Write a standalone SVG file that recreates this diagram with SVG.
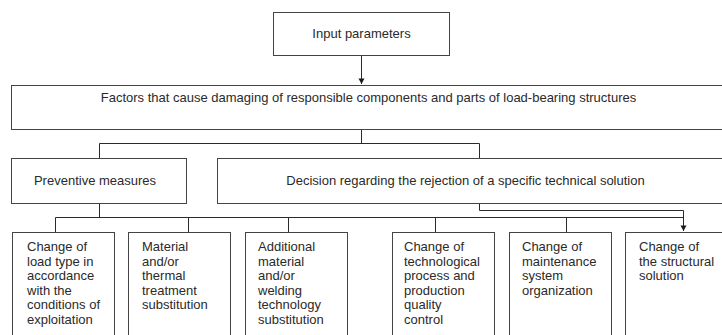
<svg xmlns="http://www.w3.org/2000/svg" width="722" height="335" viewBox="0 0 722 335">
  <style>
    .box { fill: #ffffff; stroke: #444444; stroke-width: 1; }
    .link { fill: none; stroke: #2a2a2a; stroke-width: 1; }
    .lbl { font-family: "Liberation Sans", Arial, sans-serif; font-size: 13px; fill: #2a2a2a; }
    .mid { text-anchor: middle; }
  </style>
  <defs>
    <marker id="down" markerUnits="userSpaceOnUse" markerWidth="7" markerHeight="7" refX="3.5" refY="6.5" orient="0" viewBox="0 0 7 7">
      <path d="M0.5,1 L6.5,1 L3.5,6.5 Z" fill="#1a1a1a"/>
    </marker>
  </defs>

  <rect width="722" height="335" fill="#ffffff"/>

  <!-- connectors -->
  <g id="connectors">
    <line class="link" x1="361.5" y1="55.5" x2="361.5" y2="84" marker-end="url(#down)"/>
    <line class="link" x1="361.5" y1="129.5" x2="361.5" y2="143.5"/>
    <polyline class="link" points="99.5,158.5 99.5,143.5 479.5,143.5 479.5,158.5"/>
    <line class="link" x1="99.5" y1="203.5" x2="99.5" y2="217.5"/>
    <line class="link" x1="55.5" y1="217.5" x2="683.5" y2="217.5"/>
    <line class="link" x1="55.5" y1="217.5" x2="55.5" y2="232.5"/>
    <line class="link" x1="188.5" y1="217.5" x2="188.5" y2="232.5"/>
    <line class="link" x1="288.5" y1="217.5" x2="288.5" y2="232.5"/>
    <line class="link" x1="435.5" y1="217.5" x2="435.5" y2="232.5"/>
    <line class="link" x1="566.5" y1="217.5" x2="566.5" y2="232.5"/>
    <polyline class="link" points="479.5,203.5 479.5,210.5 683.5,210.5 683.5,231" marker-end="url(#down)"/>
  </g>

  <g id="input-parameters">
    <rect class="box" x="273.5" y="12.5" width="176" height="43"/>
    <text class="lbl mid" x="361.5" y="37.5">Input parameters</text>
  </g>

  <g id="damage-factors">
    <rect class="box" x="11.5" y="85.5" width="716" height="44"/>
    <text class="lbl mid" x="368.5" y="101.5">Factors that cause damaging of responsible components and parts of load-bearing structures</text>
  </g>

  <g id="preventive-measures">
    <rect class="box" x="11.5" y="158.5" width="175" height="45"/>
    <text class="lbl mid" x="95" y="184.5" fill="#444">Preventive measures</text>
  </g>

  <g id="rejection-decision">
    <rect class="box" x="217.5" y="158.5" width="510" height="45"/>
    <text class="lbl mid" x="465.5" y="184.5">Decision regarding the rejection of a specific technical solution</text>
  </g>

  <g id="load-type-change">
    <rect class="box" x="12.5" y="232.5" width="102" height="110"/>
    <text class="lbl" x="27" y="251">
      <tspan x="27">Change of</tspan>
      <tspan x="27" dy="14.6">load type in</tspan>
      <tspan x="27" dy="14.6">accordance</tspan>
      <tspan x="27" dy="14.6">with the</tspan>
      <tspan x="27" dy="14.6">conditions of</tspan>
      <tspan x="27" dy="14.6">exploitation</tspan>
    </text>
  </g>

  <g id="material-substitution">
    <rect class="box" x="128.5" y="232.5" width="102" height="110"/>
    <text class="lbl" x="142" y="251">
      <tspan x="142">Material</tspan>
      <tspan x="142" dy="14.6">and/or</tspan>
      <tspan x="142" dy="14.6">thermal</tspan>
      <tspan x="142" dy="14.6">treatment</tspan>
      <tspan x="142" dy="14.6">substitution</tspan>
    </text>
  </g>

  <g id="welding-substitution">
    <rect class="box" x="245.5" y="232.5" width="102" height="110"/>
    <text class="lbl" x="258" y="251">
      <tspan x="258">Additional</tspan>
      <tspan x="258" dy="14.6">material</tspan>
      <tspan x="258" dy="14.6">and/or</tspan>
      <tspan x="258" dy="14.6">welding</tspan>
      <tspan x="258" dy="14.6">technology</tspan>
      <tspan x="258" dy="14.6">substitution</tspan>
    </text>
  </g>

  <g id="process-change">
    <rect class="box" x="392.5" y="232.5" width="102" height="110"/>
    <text class="lbl" x="404" y="251">
      <tspan x="404">Change of</tspan>
      <tspan x="404" dy="14.6">technological</tspan>
      <tspan x="404" dy="14.6">process and</tspan>
      <tspan x="404" dy="14.6">production</tspan>
      <tspan x="404" dy="14.6">quality</tspan>
      <tspan x="404" dy="14.6">control</tspan>
    </text>
  </g>

  <g id="maintenance-change">
    <rect class="box" x="509.5" y="232.5" width="102" height="110"/>
    <text class="lbl" x="522" y="251">
      <tspan x="522">Change of</tspan>
      <tspan x="522" dy="14.6">maintenance</tspan>
      <tspan x="522" dy="14.6">system</tspan>
      <tspan x="522" dy="14.6">organization</tspan>
    </text>
  </g>

  <g id="structural-change">
    <rect class="box" x="625.5" y="232.5" width="110" height="110"/>
    <text class="lbl" x="639" y="251">
      <tspan x="639">Change of</tspan>
      <tspan x="639" dy="14.6">the structural</tspan>
      <tspan x="639" dy="14.6">solution</tspan>
    </text>
  </g>
</svg>
